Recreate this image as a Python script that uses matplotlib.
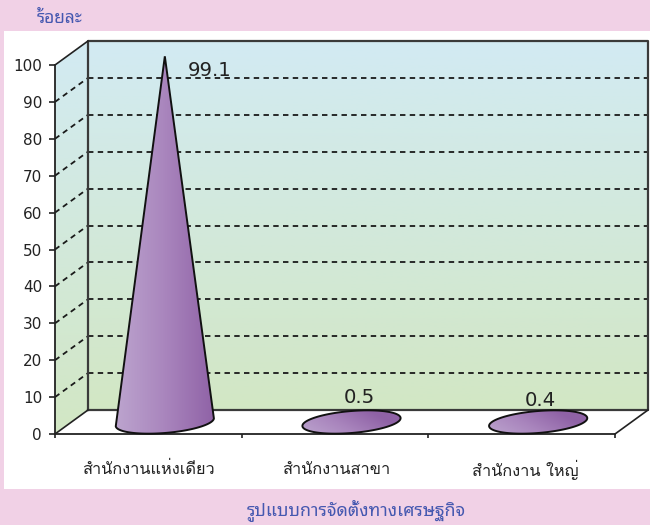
import numpy as np
import matplotlib
matplotlib.use("Agg")
import matplotlib.pyplot as plt
from matplotlib.patches import Polygon, Rectangle
from matplotlib.colors import LinearSegmentedColormap

categories = ["สำนักงานแห่งเดียว", "สำนักงานสาขา", "สำนักงาน ใหญ่"]
values = [99.1, 0.5, 0.4]
value_labels = ["99.1", "0.5", "0.4"]
y_ticks = list(range(0, 101, 10))
y_title = "ร้อยละ"
x_title = "รูปแบบการจัดตั้งทางเศรษฐกิจ"

cat_family = ["Loma", "DejaVu Sans"]
title_family = ["Noto Sans Thai Looped", "Loma", "DejaVu Sans"]

W, H = 650, 525
fig = plt.figure(figsize=(W / 100, H / 100), dpi=100, facecolor="#F1D1E6")
fig.patches.append(Rectangle((4 / W, 1 - 489 / H), (W - 4) / W, (489 - 31) / H,
                             transform=fig.transFigure, fc="white", ec="none", zorder=-5))
L, R, T, B = 55, 615, 65, 434
ax = fig.add_axes([L / W, 1 - B / H, (R - L) / W, (B - T) / H])
ax.set_xlim(0, 3)
ax.set_ylim(0, 100)
ax.patch.set_visible(False)
dx = 33 / (R - L) * 3
dy = 24 / (B - T) * 100

wall = LinearSegmentedColormap.from_list("w", ["#D2EBF3", "#D2E7C4"])
grad = np.linspace(0, 1, 256).reshape(-1, 1)
back = Polygon([(dx, dy), (3 + dx, dy), (3 + dx, 100 + dy), (dx, 100 + dy)], transform=ax.transData, fc="none", ec="none")
side = Polygon([(0, 0), (dx, dy), (dx, 100 + dy), (0, 100)], transform=ax.transData, fc="none", ec="none")
ax.add_patch(back); ax.add_patch(side)
for p in (back, side):
    im = ax.imshow(grad, cmap=wall, extent=(0, 3 + dx, dy if p is back else 0, 100 + dy), aspect="auto", zorder=1, origin="upper")
    im.set_clip_box(fig.bbox)
    im.set_clip_path(p)
ax.set_xlim(0, 3)
ax.set_ylim(0, 100)

edge = "#3A3A3A"
for v in y_ticks[1:-1]:
    ax.plot([dx, 3 + dx], [v + dy, v + dy], color="#1A1A1A", lw=1.3, ls=(0, (3.0, 2.4)), clip_on=False, zorder=2)
    ax.plot([0, dx], [v, v + dy], color="#1A1A1A", lw=1.3, ls=(0, (3.0, 2.4)), clip_on=False, zorder=2)
ax.plot([dx, dx, 3 + dx, 3 + dx, dx], [dy, 100 + dy, 100 + dy, dy, dy], color=edge, lw=1.6, clip_on=False, zorder=3)
ax.plot([0, dx], [0, dy], color="#222222", lw=1.2, clip_on=False, zorder=3)
ax.plot([0, dx], [100, 100 + dy], color="#222222", lw=1.2, clip_on=False, zorder=3)
ax.plot([3, 3 + dx], [0, dy], color="#222222", lw=1.2, clip_on=False, zorder=3)

cone = LinearSegmentedColormap.from_list("c", ["#BCA4CE", "#A985BD", "#8F62A6"])
a = 0.263
b = 11 / (B - T) * 100
tilt = 4.0
base_y = dy / 2
for i, v in enumerate(values):
    cx = i + 0.5 + dx / 2
    if v > b:
        t0 = np.arcsin(b / v)
        t = np.linspace(t0, np.pi - t0, 80)
        xs = cx + a * np.cos(t)
        ys = base_y - b * np.sin(t) + tilt * (xs - cx)
        xs = np.r_[xs, cx]
        ys = np.r_[ys, base_y + v]
    else:
        t = np.linspace(0, 2 * np.pi, 160)
        xs = cx + a * np.cos(t)
        ys = base_y + b * np.sin(t) + tilt * (xs - cx)
    poly = Polygon(np.c_[xs, ys], closed=True, fc="none", ec="#111111", lw=1.4, clip_on=False, zorder=6)
    ax.add_patch(poly)
    if v > b:
        g = np.linspace(0, 1, 128).reshape(1, -1)
    else:
        u, w = np.meshgrid(np.linspace(0, 1, 128), np.linspace(0, 1, 64))
        g = np.clip(0.9 * u + 0.6 * (1 - w) - 0.1, 0, 1)
    im = ax.imshow(g, cmap=cone, vmin=0, vmax=1, extent=(cx - a, cx + a, base_y - b - 2, base_y + max(v, b) + 2), aspect="auto", zorder=5, origin="upper")
    clip = Polygon(np.c_[xs, ys], closed=True, transform=ax.transData, fc="none", ec="none")
    ax.add_patch(clip)
    im.set_clip_box(fig.bbox)
    im.set_clip_path(clip)
ax.set_xlim(0, 3)
ax.set_ylim(0, 100)

label_pos = [(0.83, 98.5), (1.63, 9.9), (2.6, 9.1)]
for (x, y), s in zip(label_pos, value_labels):
    ax.text(x, y, s, fontsize=14.2, color="#222222", ha="center", va="center", zorder=7, clip_on=False)

for s in ("top", "right"):
    ax.spines[s].set_visible(False)
for s in ("left", "bottom"):
    ax.spines[s].set_color("#222222")
    ax.spines[s].set_linewidth(1.3)
    ax.spines[s].set_zorder(4)
ax.set_yticks(y_ticks)
ax.set_xticks([0, 1, 2, 3])
ax.set_xticklabels([])
ax.tick_params(axis="y", length=4.3, width=1.2, color="#222222", labelsize=11, labelcolor="#222222", pad=5)
ax.tick_params(axis="x", length=3, width=1.2, color="#222222")

cat_x = [0.5, 1.505, 2.52]
for x, c in zip(cat_x, categories):
    ax.text(x, -9.8, c, family=cat_family, fontsize=11.8, color="#222222", ha="center", va="center", clip_on=False)
fig.text(60 / W, 1 - 18 / H, y_title, family=title_family, fontsize=12.5, color="#4558B0", ha="center", va="center", fontweight="bold")
fig.text(356 / W, 1 - 510 / H, x_title, family=title_family, fontsize=12.8, color="#4558B0", ha="center", va="center", fontweight="bold")
fig.savefig("out.png", dpi=100, facecolor=fig.get_facecolor())
